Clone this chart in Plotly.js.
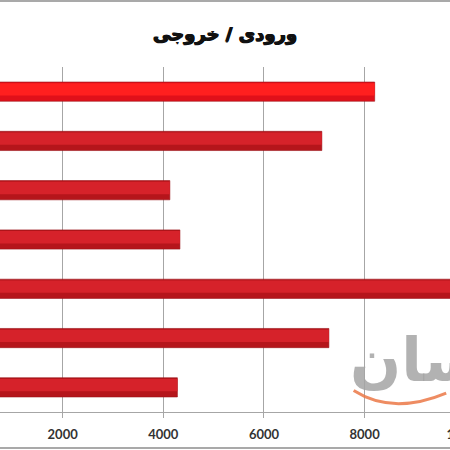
<!DOCTYPE html>
<html>
<head>
<meta charset="utf-8">
<script src="https://cdn.plot.ly/plotly-3.0.1.min.js"></script>
<style>
html,body{margin:0;padding:0;background:#fff;}
#frame{position:relative;width:450px;height:450px;overflow:hidden;background:#fff;}
#chart{position:absolute;left:-100px;top:0;width:600px;height:450px;}
.hl{position:absolute;left:0;width:450px;height:2px;background:#a9a9a9;}
</style>
</head>
<body>
<div id="frame">
  <div id="chart"></div>
  <div class="hl" style="top:0px"></div>
  <div class="hl" style="top:447px"></div>
</div>
<script>
// Data (top to bottom)
const categories = ["c1","c2","c3","c4","c5","c6","c7"];
const values = [8200, 7150, 4130, 4330, 10400, 7290, 4280];
const tickValues = [2000, 4000, 6000, 8000, 10000];
const tickLabels = ["2000", "4000", "6000", "8000", "10000"];
const titleText = "ورودی / خروجی";

const baseColors = values.map((v, i) => i === 0 ? "#e0101a" : "#b5151b");
const topColors = values.map((v, i) => i === 0 ? "#ff1f1f" : "#d6222a");

const traces = [
  {
    type: "bar", orientation: "h", x: values, y: categories,
    marker: {color: baseColors, line: {color: "#9a1217", width: 0.6}},
    width: 0.39, hoverinfo: "none"
  },
  {
    type: "bar", orientation: "h", x: values, y: categories,
    marker: {color: topColors, line: {width: 0}},
    width: 0.25, offset: -0.17, hoverinfo: "none"
  }
];

const layout = {
  width: 600, height: 450,
  margin: {l: 62, r: 0, t: 67, b: 38},
  paper_bgcolor: "#ffffff", plot_bgcolor: "#ffffff",
  barmode: "overlay",
  showlegend: false,
  title: {
    text: titleText, xref: "container", x: 0.5417, xanchor: "center",
    yref: "container", y: 0.925, yanchor: "middle",
    font: {family: "DejaVu Sans", size: 18, color: "#111", weight: "bold",
           shadow: "0.7px 0 0 #111, -0.7px 0 0 #111, 0 0.5px 0 #111"}
  },
  xaxis: {
    range: [0, 10690], tickvals: tickValues, ticktext: tickLabels,
    showgrid: true, gridcolor: "#a6a6a6", gridwidth: 1,
    zeroline: false, showline: true, linecolor: "#a6a6a6", linewidth: 1,
    ticks: "outside", ticklen: 5, tickcolor: "#a6a6a6", ticklabelstandoff: 5,
    tickfont: {family: "Lato", size: 13, color: "#333", weight: "bold"}
  },
  yaxis: {
    autorange: "reversed", showticklabels: false, showgrid: false,
    zeroline: false, showline: false, ticks: ""
  },
  annotations: [{
    xref: "paper", yref: "paper", x: 0.845, y: 0.15, xanchor: "center", yanchor: "middle",
    text: "<b>سان</b>", showarrow: false,
    font: {family: "DejaVu Sans", size: 60, color: "rgba(165,165,165,0.85)"}
  }],
  shapes: [{
    type: "path", xref: "paper", yref: "paper",
    path: "M 0.728,0.062 Q 0.80,-0.01 0.90,0.055",
    line: {color: "rgba(235,120,70,0.85)", width: 3}
  }]
};

Plotly.newPlot("chart", traces, layout, {staticPlot: true, displayModeBar: false});
</script>
</body>
</html>
